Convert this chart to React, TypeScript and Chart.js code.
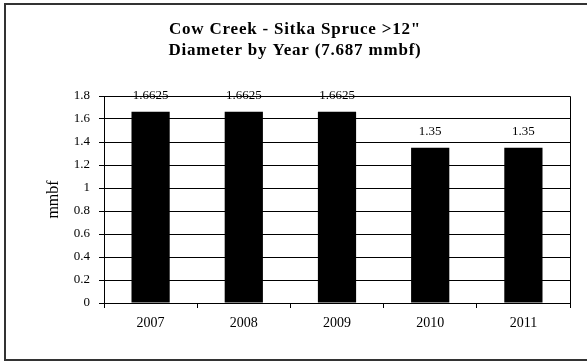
import React, { useEffect, useRef } from "react";
import { Chart, registerables } from "chart.js";

Chart.register(...registerables);

const years = ["2007", "2008", "2009", "2010", "2011"];
const volumes = [1.6625, 1.6625, 1.6625, 1.35, 1.35];
const volumeLabels = ["1.6625", "1.6625", "1.6625", "1.35", "1.35"];
const titleLines = ['Cow Creek - Sitka Spruce >12"', "Diameter by Year (7.687 mmbf)"];
const yAxisTitle = "mmbf";

const FONT = "'Liberation Serif', 'Times New Roman', serif";

const framePlugin = {
  id: "frame",
  beforeDraw(chart: any) {
    const ctx = chart.ctx;
    ctx.save();
    ctx.fillStyle = "#ffffff";
    ctx.fillRect(0, 0, chart.width, chart.height);
    ctx.strokeStyle = "#333333";
    ctx.lineWidth = 2;
    ctx.strokeRect(5, 4, chart.width + 10, 356);
    // title
    ctx.fillStyle = "#000000";
    ctx.font = `bold 17px ${FONT}`;
    ctx.textAlign = "center";
    ctx.textBaseline = "middle";
    (ctx as any).letterSpacing = "0.8px";
    ctx.fillText(titleLines[0], 295, 30);
    ctx.fillText(titleLines[1], 295, 51);
    ctx.restore();
  },
  afterDatasetsDraw(chart: any) {
    const ctx = chart.ctx;
    const { left, top, right, bottom } = chart.chartArea;
    ctx.save();
    ctx.strokeStyle = "#000000";
    ctx.lineWidth = 1;
    ctx.beginPath();
    ctx.moveTo(Math.round(left) + 0.5, Math.round(bottom) + 0.5);
    ctx.lineTo(Math.round(left) + 0.5, Math.round(top) + 0.5);
    ctx.lineTo(Math.round(right) + 0.5, Math.round(top) + 0.5);
    ctx.lineTo(Math.round(right) + 0.5, Math.round(bottom) + 0.5);
    ctx.stroke();
    // data labels
    ctx.fillStyle = "#000000";
    ctx.font = `13px ${FONT}`;
    ctx.textAlign = "center";
    ctx.textBaseline = "middle";
    const meta = chart.getDatasetMeta(0);
    meta.data.forEach((bar: any, i: number) => {
      ctx.fillText(volumeLabels[i], bar.x, bar.y - 16);
    });
    ctx.restore();
  },
};

export default function App() {
  const ref = useRef<HTMLCanvasElement>(null);
  useEffect(() => {
    if (!ref.current) return;
    const chart = new Chart(ref.current, {
      type: "bar",
      data: {
        labels: years,
        datasets: [
          {
            data: volumes,
            backgroundColor: "#000000",
            borderWidth: 0,
            categoryPercentage: 1,
            barPercentage: 0.41,
          },
        ],
      },
      options: {
        animation: false,
        responsive: false,
        events: [],
        layout: { padding: { top: 96, left: 0, right: 17, bottom: 0 } },
        plugins: {
          legend: { display: false },
          tooltip: { enabled: false },
          title: { display: false },
        },
        scales: {
          x: {
            grid: {
              drawOnChartArea: false,
              drawTicks: true,
              tickLength: 5,
              color: "#000000",
              offset: true,
            },
            border: { display: true, color: "#000000" },
            ticks: {
              color: "#000000",
              font: { family: FONT, size: 14 },
              padding: 7,
            },
            afterFit: (scale: any) => {
              scale.height = 59;
            },
          },
          y: {
            min: 0,
            max: 1.8,
            grid: { color: "#000000", tickLength: 5 },
            border: { display: true, color: "#000000" },
            ticks: {
              stepSize: 0.2,
              color: "#000000",
              font: { family: FONT, size: 13 },
              padding: 9,
              callback: (v: any) => String(Math.round(Number(v) * 10) / 10),
            },
            title: {
              display: true,
              text: yAxisTitle,
              color: "#000000",
              font: { family: FONT, size: 16 },
              padding: { top: 44, bottom: 0 },
            },
            afterFit: (scale: any) => {
              scale.width = 104;
            },
          },
        },
      },
      plugins: [framePlugin],
    });
    return () => chart.destroy();
  }, []);
  return (
    <div style={{ position: "fixed", left: 0, top: 0, width: 587, height: 362, background: "#fff" }}>
      <canvas ref={ref} width={587} height={362} style={{ display: "block" }} />
    </div>
  );
}
